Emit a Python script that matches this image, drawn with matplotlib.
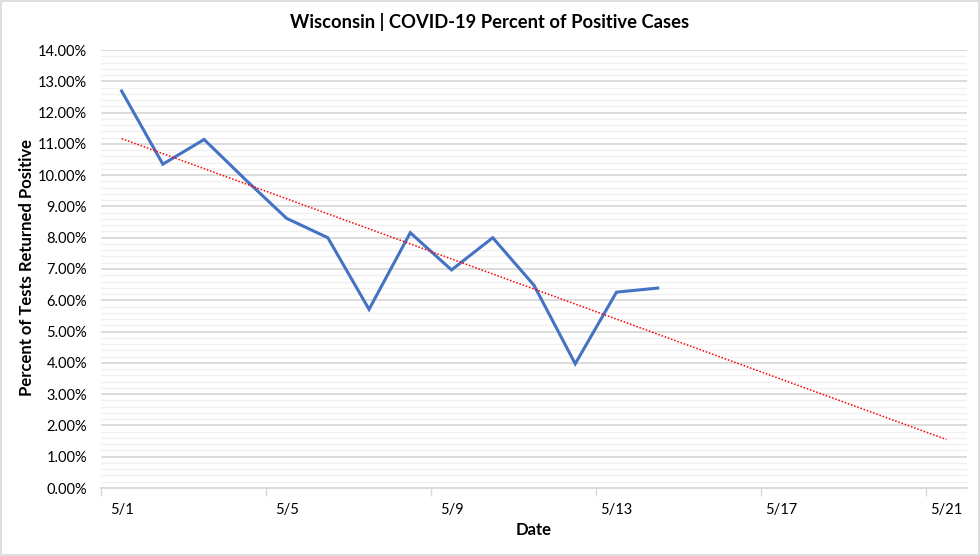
import matplotlib
matplotlib.use("Agg")
import matplotlib.pyplot as plt
import numpy as np
from matplotlib.patches import Rectangle

# Data (percent of positive tests), days from 5/1
dates = ["5/1", "5/2", "5/3", "5/4", "5/5", "5/6", "5/7", "5/8", "5/9",
         "5/10", "5/11", "5/12", "5/13", "5/14"]
pct_positive = [12.69, 10.35, 11.14, 9.86, 8.62, 8.00, 5.71, 8.16, 6.97,
                8.00, 6.48, 3.97, 6.26, 6.39]
axis_dates = ["5/1", "5/5", "5/9", "5/13", "5/17", "5/21"]
axis_len = 21  # 5/1 .. 5/21

plt.rcParams['font.family'] = ['Lato', 'DejaVu Sans']

fig = plt.figure(figsize=(9.8, 5.56), dpi=100)
ax = fig.add_axes([101/980, 1-488/556, (967-101)/980, (488-50)/556])

x = np.arange(len(pct_positive))
ax.plot(x, pct_positive, color="#4472C4", lw=2.2, solid_joinstyle="miter", zorder=3)

# linear trendline extended to end of axis
coef = np.polyfit(x, pct_positive, 1)
xt = np.array([0, axis_len - 1])
ax.plot(xt, np.polyval(coef, xt), color="#FF0000", lw=1.1, ls=(0, (1, 1.2)), zorder=4)

ax.set_xlim(-0.5, axis_len - 0.5)
ax.set_ylim(0, 14)

ax.set_yticks(np.arange(0, 14.01, 1))
ax.set_yticklabels([f"{v:.2f}%" for v in np.arange(0, 14.01, 1)])
ax.set_yticks(np.arange(0, 14.01, 0.2), minor=True)

# x: tick marks at band boundaries, labels at day centres
label_pos = [axis_dates.index(d) * 4 for d in axis_dates]
ax.set_xticks([p - 0.5 for p in label_pos])
ax.set_xticklabels([""] * len(label_pos))
ax.set_xticks(label_pos, minor=True)
ax.set_xticklabels(axis_dates, minor=True)
ax.tick_params(axis="x", which="major", length=6, color="#d9d9d9", width=1)
ax.tick_params(axis="x", which="minor", length=0, pad=11, labelsize=10.5, labelcolor="#000000")
ax.tick_params(axis="y", which="both", length=0, pad=10, labelsize=10.5)

ax.grid(axis="y", which="major", color="#d9d9d9", lw=1.3)
ax.grid(axis="y", which="minor", color="#f0f0f0", lw=1.0)
ax.set_axisbelow(True)
for s in ["top", "right", "left"]:
    ax.spines[s].set_visible(False)
ax.spines["bottom"].set_color("#d9d9d9")
ax.spines["bottom"].set_linewidth(1.3)

ax.set_xlabel("Date", fontsize=12, fontweight="bold")
ax.xaxis.set_label_coords(0.5, -(530-488)/438, transform=ax.transAxes)
ax.xaxis.label.set_va("center")
ax.set_ylabel("Percent of Tests Returned Positive", fontsize=12, fontweight="bold")
ax.yaxis.set_label_coords(-(101-27)/866, (488-268)/438)
ax.yaxis.label.set_va("center")
fig.text(490/980, 1-22/556, "Wisconsin | COVID-19 Percent of Positive Cases",
         ha="center", va="center", fontsize=13.2, fontweight="bold")

fig.patches.append(Rectangle((0.001, 0.001), 0.998, 0.997, transform=fig.transFigure,
                             fill=False, edgecolor="#d9d9d9", lw=1.2))

fig.savefig("out.png", dpi=100)
